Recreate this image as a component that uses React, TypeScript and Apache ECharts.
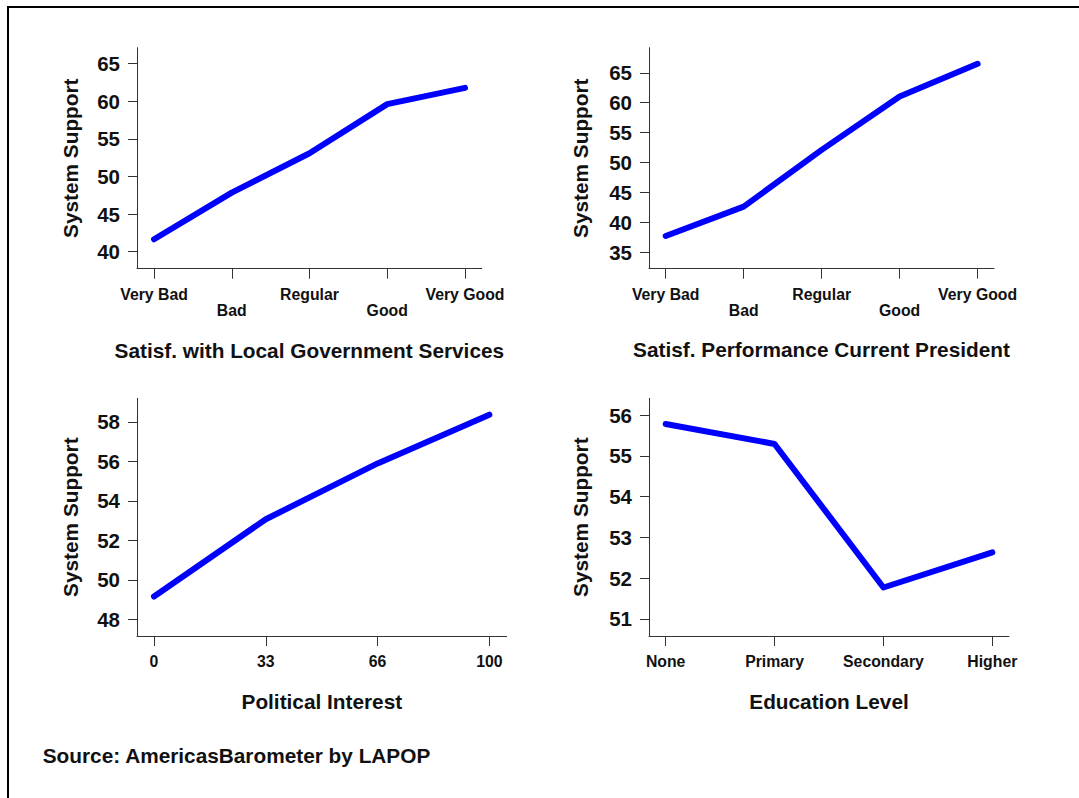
import React, { useEffect, useRef } from "react";
import * as echarts from "echarts";

const satisfCategories = ["Very Bad", "Bad", "Regular", "Good", "Very Good"];
const localGovValues = [41.65, 47.85, 53.08, 59.6, 61.77];
const presidentValues = [37.73, 42.63, 52.12, 61.04, 66.5];
const interestCategories = ["0", "33", "66", "100"];
const interestValues = [49.15, 53.07, 55.9, 58.37];
const educationCategories = ["None", "Primary", "Secondary", "Higher"];
const educationValues = [55.78, 55.29, 51.77, 52.63];

const ticks1 = [40, 45, 50, 55, 60, 65];
const ticks2 = [35, 40, 45, 50, 55, 60, 65];
const ticks3 = [48, 50, 52, 54, 56, 58];
const ticks4 = [51, 52, 53, 54, 55, 56];

const yAxisTitle = "System Support";
const xTitles = [
  "Satisf. with Local Government Services",
  "Satisf. Performance Current President",
  "Political Interest",
  "Education Level",
];
const sourceText = "Source: AmericasBarometer by LAPOP";

const FONT = "'Liberation Sans', Arial, Helvetica, sans-serif";
const AXIS_COLOR = "#333";

export default function App() {
  const ref = useRef<HTMLDivElement>(null);
  useEffect(() => {
    if (!ref.current) return;
    const chart = echarts.init(ref.current, null, { renderer: "svg" });

    const grids = [
      { left: 137, top: 47.7, width: 344.7, height: 221 },
      { left: 649, top: 47.7, width: 345, height: 221 },
      { left: 137, top: 398.3, width: 369.7, height: 237.7 },
      { left: 649, top: 398.3, width: 360, height: 237.7 },
    ];

    const catLists = [satisfCategories, satisfCategories, interestCategories, educationCategories];
    const valLists = [localGovValues, presidentValues, interestValues, educationValues];
    const yTicks = [ticks1, ticks2, ticks3, ticks4];
    const yRanges = [
      [37.74, 67.1],
      [32.26, 69.2],
      [47.15, 59.2],
      [50.58, 56.41],
    ];
    const xRanges = [
      [-0.219, 4.215],
      [-0.214, 4.21],
      [-0.152, 3.155],
      [-0.153, 3.153],
    ];
    const xNameGaps = [82, 81, 65.7, 65.7];
    const yNameGaps = [67, 69, 67, 69];

    const xAxis = grids.map((_, i) => {
      const cats = catLists[i];
      const idx = cats.map((_, k) => k);
      const stagger = cats.length === 5;
      return {
        type: "value",
        gridIndex: i,
        min: xRanges[i][0],
        max: xRanges[i][1],
        splitLine: { show: false },
        axisLine: { show: true, onZero: false, lineStyle: { color: AXIS_COLOR, width: 1 } },
        axisTick: { show: true, length: 10, customValues: idx, lineStyle: { color: AXIS_COLOR, width: 1 } },
        axisLabel: {
          show: true,
          customValues: idx,
          margin: 17.5,
          fontFamily: FONT,
          fontWeight: "bold",
          fontSize: 15.8,
          lineHeight: 16,
          color: "#111",
          formatter: (v: number) => {
            const k = Math.round(v);
            const name = cats[k] ?? "";
            return stagger && k % 2 === 1 ? "\n" + name : name;
          },
        },
        name: xTitles[i],
        nameLocation: "middle",
        nameGap: xNameGaps[i],
        nameTextStyle: {
          fontFamily: FONT,
          fontWeight: "bold",
          fontSize: 20.8,
          color: "#111",
          verticalAlign: "middle",
          align: "center",
        },
      };
    });

    const yAxis = grids.map((_, i) => ({
      type: "value",
      gridIndex: i,
      min: yRanges[i][0],
      max: yRanges[i][1],
      splitLine: { show: false },
      axisLine: { show: true, onZero: false, lineStyle: { color: AXIS_COLOR, width: 1 } },
      axisTick: { show: true, length: 9, customValues: yTicks[i], lineStyle: { color: AXIS_COLOR, width: 1 } },
      axisLabel: {
        show: true,
        customValues: yTicks[i],
        margin: 17,
        fontFamily: FONT,
        fontWeight: "bold",
        fontSize: 20.5,
        color: "#111",
        formatter: (v: number) => String(Math.round(v)),
      },
      name: yAxisTitle,
      nameLocation: "middle",
      nameGap: yNameGaps[i],
      nameTextStyle: {
        fontFamily: FONT,
        fontWeight: "bold",
        fontSize: 20.8,
        color: "#111",
        verticalAlign: "middle",
        align: "center",
      },
    }));

    const series = grids.map((_, i) => ({
      type: "line",
      xAxisIndex: i,
      yAxisIndex: i,
      data: valLists[i].map((v, k) => [k, v]),
      showSymbol: false,
      symbol: "none",
      lineStyle: { color: "#0000ff", width: 6, cap: "round", join: "round" },
      itemStyle: { color: "#0000ff" },
    }));

    chart.setOption({
      animation: false,
      backgroundColor: "#ffffff",
      grid: grids.map((g) => ({ ...g, containLabel: false })),
      xAxis,
      yAxis,
      series,
      graphic: [
        {
          type: "rect",
          shape: { x: 8, y: 7, width: 1200, height: 900 },
          style: { fill: "none", stroke: "#000", lineWidth: 2 },
          silent: true,
        },
        {
          type: "text",
          x: 42.7,
          y: 755,
          style: {
            text: sourceText,
            fontFamily: FONT,
            fontWeight: "bold",
            fontSize: 20.8,
            fill: "#111",
            verticalAlign: "middle",
            align: "left",
          },
        },
      ],
    });
    return () => chart.dispose();
  }, []);

  return (
    <div
      ref={ref}
      style={{ position: "fixed", left: 0, top: 0, width: 1079, height: 798, background: "#fff" }}
    />
  );
}
